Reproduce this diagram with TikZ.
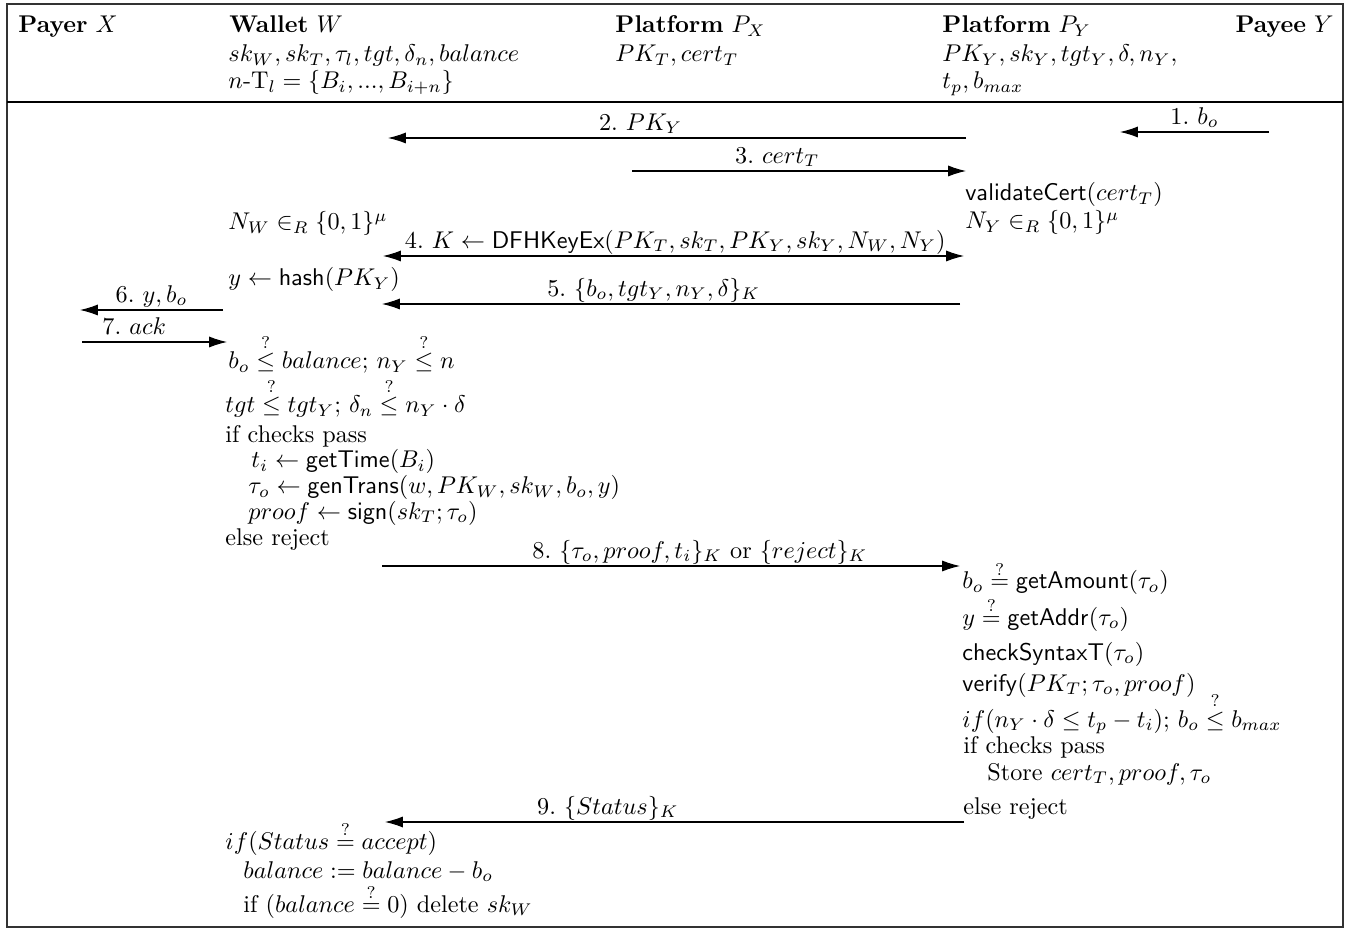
\documentclass[tikz,border=0pt]{standalone}
\usepackage{amsmath}
\usetikzlibrary{arrows.meta}

\begin{document}
\begin{tikzpicture}[%%
  x=0.4132pt, y=-0.4132pt,%%
  txtStyle/.style={anchor=base west, inner sep=0pt},%%
  lblStyle/.style={anchor=base, inner sep=0pt, yshift=3.3pt},%%
  msgStyle/.style={-{Latex[length=7.4pt,width=4.6pt]}, line width=0.45pt},%%
  msgBothStyle/.style={{Latex[length=7.4pt,width=4.6pt]}-{Latex[length=7.4pt,width=4.6pt]}, line width=0.45pt},%%
  frameStyle/.style={line width=0.7pt}%%
]
%%
%% Page size and the frame with its header rule.
\useasboundingbox (0,0) rectangle (1351,929);
\draw[frameStyle, black!80] (7,4) rectangle (1343,927);
\draw[frameStyle] (7,102) -- (1343,102);
%%
%% Header: the parties and what each one holds.
\node[txtStyle] (payerX) at (18,33) {\textbf{Payer} $X$};
\node[txtStyle] (walletW) at (229,33) {\textbf{Wallet} $W$};
\node[txtStyle] (walletKeys) at (228,62) {$sk_W, sk_T, \tau_l, tgt, \delta_n, balance$};
\node[txtStyle] (walletTl) at (228,89) {$n$-$\mathrm{T}_l = \{B_i, ..., B_{i+n}\}$};
\node[txtStyle] (platX) at (615,33) {\textbf{Platform} $P_X$};
\node[txtStyle] (platXKeys) at (615,62) {$PK_T, cert_T$};
\node[txtStyle] (platY) at (942,33) {\textbf{Platform} $P_Y$};
\node[txtStyle] (platYKeys) at (942,62) {$PK_Y, sk_Y, tgt_Y, \delta, n_Y,$};
\node[txtStyle] (platYKeysB) at (942,89) {$t_p, b_{max}$};
\node[anchor=base east, inner sep=0pt] (payeeY) at (1334,33) {\textbf{Payee} $Y$};
%%
%% End points of the messages.
\coordinate (m1a) at (1269,132);  \coordinate (m1b) at (1120,132);
\coordinate (m2a) at (966,138);   \coordinate (m2b) at (388,138);
\coordinate (m3a) at (632,171);   \coordinate (m3b) at (966,171);
\coordinate (m4a) at (383,256);   \coordinate (m4b) at (964,256);
\coordinate (m5a) at (960,304);   \coordinate (m5b) at (382,304);
\coordinate (m6a) at (223,310);   \coordinate (m6b) at (80,310);
\coordinate (m7a) at (82,342);    \coordinate (m7b) at (227,342);
\coordinate (m8a) at (382,566);   \coordinate (m8b) at (960,566);
\coordinate (m9a) at (964,822);   \coordinate (m9b) at (385,822);
%%
%% The messages.
\draw[msgStyle] (m1a) -- node[lblStyle, pos=0.5] (lbl1) {1.~$b_o$} (m1b);
\draw[msgStyle] (m2a) -- node[lblStyle, pos=0.563] (lbl2) {2.~$PK_Y$} (m2b);
\draw[msgStyle] (m3a) -- node[lblStyle, pos=0.435] (lbl3) {3.~$cert_T$} (m3b);
\draw[msgBothStyle] (m4a) -- node[lblStyle, pos=0.503] (lbl4)
  {4.~$K \leftarrow \mathsf{DFHKeyEx}(PK_T, sk_T, PK_Y, sk_Y, N_W, N_Y)$} (m4b);
\draw[msgStyle] (m5a) -- node[lblStyle, pos=0.53] (lbl5) {5.~$\{b_o, tgt_Y, n_Y, \delta\}_K$} (m5b);
\draw[msgStyle] (m6a) -- node[lblStyle, pos=0.5] (lbl6) {6.~$y, b_o$} (m6b);
\draw[msgStyle] (m7a) -- node[lblStyle, pos=0.36] (lbl7) {7.~$ack$} (m7b);
\draw[msgStyle] (m8a) -- node[lblStyle, pos=0.55] (lbl8)
  {8.~$\{\tau_o, proof, t_i\}_K$ or $\{reject\}_K$} (m8b);
\draw[msgStyle] (m9a) -- node[lblStyle, pos=0.615] (lbl9) {9.~$\{Status\}_K$} (m9b);
%%
%% Platform P_Y: certificate check and nonce.
\node[txtStyle] (validCert) at (965,201) {$\mathsf{validateCert}(cert_T)$};
\node[txtStyle] (nonceY) at (965,229) {$N_Y \in_R \{0,1\}^\mu$};
%%
%% Wallet: nonce, hash and checks.
\node[txtStyle] (nonceW) at (228,230) {$N_W \in_R \{0,1\}^\mu$};
\node[txtStyle] (hashY) at (228,286) {$y \leftarrow \mathsf{hash}(PK_Y)$};
\node[txtStyle] (chkA) at (228,369) {$b_o \stackrel{?}{\leq} balance$; $n_Y \stackrel{?}{\leq} n$};
\node[txtStyle] (chkB) at (225,413) {$tgt \stackrel{?}{\leq} tgt_Y$; $\delta_n \stackrel{?}{\leq} n_Y \cdot \delta$};
\node[txtStyle] (chkPassW) at (225,443) {if checks pass};
\node[txtStyle] (getTime) at (251,468) {$t_i \leftarrow \mathsf{getTime}(B_i)$};
\node[txtStyle] (genTrans) at (248,494) {$\tau_o \leftarrow \mathsf{genTrans}(w, PK_W, sk_W, b_o, y)$};
\node[txtStyle] (signT) at (248,519) {$proof \leftarrow \mathsf{sign}(sk_T; \tau_o)$};
\node[txtStyle] (rejectW) at (225,545) {else reject};
%%
%% Platform P_Y: checks on the transaction.
\node[txtStyle] (getAmount) at (962,589) {$b_o \stackrel{?}{=} \mathsf{getAmount}(\tau_o)$};
\node[txtStyle] (getAddr) at (962,625) {$y \stackrel{?}{=} \mathsf{getAddr}(\tau_o)$};
\node[txtStyle] (syntaxT) at (962,660) {$\mathsf{checkSyntaxT}(\tau_o)$};
\node[txtStyle] (verifyT) at (962,691) {$\mathsf{verify}(PK_T; \tau_o, proof)$};
\node[txtStyle] (timeChk) at (962,727) {$if(n_Y \cdot \delta \leq t_p - t_i)$; $b_o \stackrel{?}{\leq} b_{max}$};
\node[txtStyle] (chkPassY) at (963,753) {if checks pass};
\node[txtStyle] (storeY) at (987,780) {Store $cert_T, proof, \tau_o$};
\node[txtStyle] (rejectY) at (963,814) {else reject};
%%
%% Wallet: balance update.
\node[txtStyle] (statusW) at (225,849) {$if(Status \stackrel{?}{=} accept)$};
\node[txtStyle] (balUpd) at (243,878) {$balance := balance - b_o$};
\node[txtStyle] (delKey) at (243,912) {if ($balance \stackrel{?}{=} 0$) delete $sk_W$};
\end{tikzpicture}
\end{document}
